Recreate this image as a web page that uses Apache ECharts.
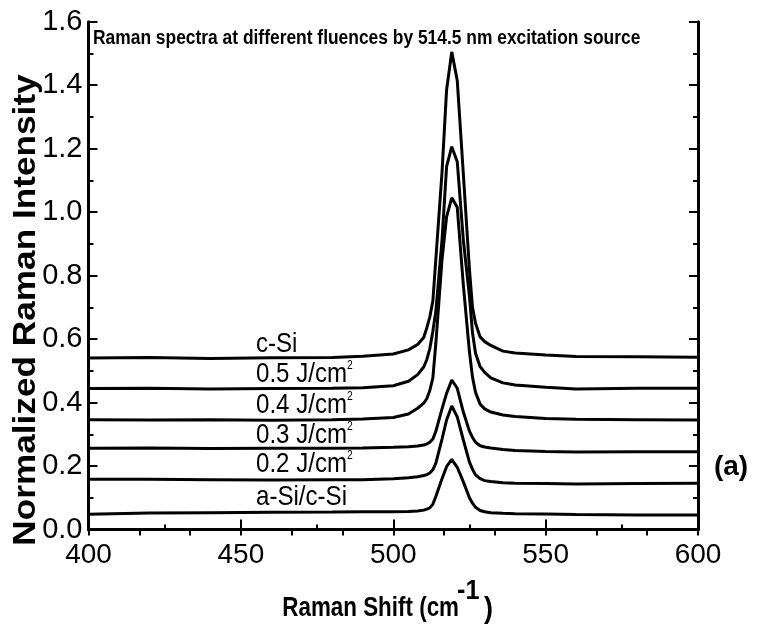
<!DOCTYPE html>
<html>
<head>
<meta charset="utf-8">
<script src="https://cdn.jsdelivr.net/npm/echarts@6/dist/echarts.min.js"></script>
<style>
html, body { margin: 0; padding: 0; background: #fff; }
#chart { width: 771px; height: 632px; }
</style>
</head>
<body>
<div id="chart"></div>
<script>
// Raman shift (cm-1), shared by every spectrum
const shift = [400, 420, 440, 460, 480, 490, 500, 505, 508, 510, 511, 512, 513, 514, 516, 517.5, 519.2, 521, 523, 525, 526, 527, 528.5, 530, 532, 536, 540, 550, 560, 580, 600];

// normalized intensities
const cSi = [0.540, 0.542, 0.539, 0.541, 0.542, 0.546, 0.553, 0.566, 0.583, 0.605, 0.635, 0.670, 0.720, 0.855, 1.125, 1.385, 1.505, 1.415, 1.120, 0.820, 0.700, 0.650, 0.607, 0.592, 0.580, 0.562, 0.556, 0.550, 0.545, 0.544, 0.543];
const f05 = [0.444, 0.445, 0.443, 0.444, 0.445, 0.447, 0.453, 0.467, 0.488, 0.512, 0.535, 0.570, 0.625, 0.690, 0.912, 1.143, 1.206, 1.159, 0.912, 0.735, 0.620, 0.555, 0.513, 0.495, 0.478, 0.462, 0.455, 0.448, 0.443, 0.445, 0.445];
const f04 = [0.346, 0.345, 0.346, 0.344, 0.346, 0.348, 0.353, 0.364, 0.382, 0.398, 0.412, 0.438, 0.478, 0.590, 0.850, 0.985, 1.045, 1.015, 0.770, 0.560, 0.480, 0.432, 0.395, 0.380, 0.370, 0.361, 0.356, 0.350, 0.347, 0.346, 0.345];
const f03 = [0.256, 0.257, 0.255, 0.256, 0.256, 0.257, 0.259, 0.261, 0.263, 0.266, 0.270, 0.275, 0.285, 0.310, 0.380, 0.429, 0.471, 0.445, 0.370, 0.310, 0.290, 0.275, 0.264, 0.260, 0.257, 0.252, 0.249, 0.246, 0.244, 0.245, 0.245];
const f02 = [0.158, 0.158, 0.157, 0.156, 0.157, 0.157, 0.160, 0.163, 0.166, 0.170, 0.173, 0.178, 0.188, 0.210, 0.285, 0.345, 0.389, 0.355, 0.282, 0.212, 0.190, 0.172, 0.160, 0.154, 0.151, 0.147, 0.146, 0.145, 0.143, 0.145, 0.146];
const aSi = [0.048, 0.052, 0.053, 0.054, 0.055, 0.056, 0.056, 0.057, 0.058, 0.061, 0.064, 0.068, 0.080, 0.105, 0.160, 0.198, 0.221, 0.196, 0.150, 0.100, 0.083, 0.070, 0.060, 0.056, 0.053, 0.051, 0.050, 0.049, 0.047, 0.046, 0.046];

const spectra = [cSi, f05, f04, f03, f02, aSi];
const names = ['c-Si', '0.5 J/cm2', '0.4 J/cm2', '0.3 J/cm2', '0.2 J/cm2', 'a-Si/c-Si'];
// text shown next to each curve ({s|..} = superscript)
const curveText = ['c-Si', '0.5 J/cm{s|2}', '0.4 J/cm{s|2}', '0.3 J/cm{s|2}', '0.2 J/cm{s|2}', 'a-Si/c-Si'];
const labelY = [344, 374, 405, 435, 464, 497];

const sans = '"Liberation Sans", Arial, sans-serif';

const chart = echarts.init(document.getElementById('chart'));

const tickStyle = { color: '#000', width: 2 };
const lineStyle = { color: '#000', width: 3 };

function boldText(text, x, y, size, align, scaleX) {
  return {
    type: 'text',
    x: x,
    y: y,
    scaleX: scaleX,
    style: {
      text: text,
      align: align,
      verticalAlign: 'middle',
      fontFamily: sans,
      fontSize: size,
      fontWeight: 'bold',
      fill: '#000'
    }
  };
}

// the figure uses a squeezed font, so texts are drawn with a horizontal scale
const graphics = curveText.map((t, i) => ({
  type: 'text',
  x: 256,
  y: labelY[i],
  scaleX: 0.86,
  style: {
    text: t,
    verticalAlign: 'middle',
    rich: {
      s: { fontFamily: sans, fontSize: 12, lineHeight: 12, verticalAlign: 'top', padding: [0, 0, 15, 0], fill: '#000' }
    },
    fontFamily: sans,
    fontSize: 28,
    fill: '#000'
  }
}));

graphics.push(boldText('Raman spectra at different fluences by 514.5 nm excitation source', 93, 38, 20, 'left', 0.87));

graphics.push({
  type: 'text',
  x: 26,
  y: 310,
  rotation: Math.PI / 2,
  scaleX: 1.1,
  style: {
    text: 'Normalized Raman Intensity',
    align: 'center',
    verticalAlign: 'middle',
    fontFamily: sans,
    fontSize: 32,
    fontWeight: 'bold',
    fill: '#000'
  }
});

// x axis title, with the raised -1
graphics.push(boldText('Raman Shift (cm', 459, 608, 28, 'right', 0.8));
graphics.push(boldText('-1', 457, 591, 28, 'left', 0.9));
graphics.push(boldText(')', 484, 610, 30, 'left', 0.9));

graphics.push(boldText('(a)', 731, 467, 28, 'center', 1));

chart.setOption({
  animation: false,
  grid: { left: 88.5, right: 73, top: 21.7, bottom: 102.5 },
  xAxis: [
    {
      type: 'value',
      position: 'bottom',
      min: 400,
      max: 600,
      interval: 50,
      axisLine: { lineStyle: lineStyle },
      axisTick: { inside: true, length: 10, lineStyle: tickStyle },
      minorTick: { show: true, splitNumber: 2, length: 5, lineStyle: tickStyle },
      axisLabel: { fontFamily: sans, fontSize: 28, color: '#000', margin: 12 },
      splitLine: { show: false }
    },
    {
      type: 'value',
      position: 'top',
      min: 0,
      max: 12,
      interval: 1,
      axisLine: { lineStyle: lineStyle },
      axisTick: { inside: true, length: 6, lineStyle: tickStyle },
      axisLabel: { show: false },
      splitLine: { show: false }
    }
  ],
  yAxis: [
    {
      type: 'value',
      position: 'left',
      min: 0,
      max: 1.6,
      interval: 0.2,
      axisLine: { lineStyle: lineStyle },
      axisTick: { inside: true, length: 9, lineStyle: tickStyle },
      minorTick: { show: true, splitNumber: 2, length: 5, lineStyle: tickStyle },
      axisLabel: { fontFamily: sans, fontSize: 29, color: '#000', margin: 6, formatter: v => v.toFixed(1) },
      splitLine: { show: false }
    },
    {
      type: 'value',
      position: 'right',
      min: 0,
      max: 1.6,
      interval: 0.2,
      axisLine: { lineStyle: lineStyle },
      axisTick: { inside: true, length: 9, lineStyle: tickStyle },
      minorTick: { show: true, splitNumber: 2, length: 5, lineStyle: tickStyle },
      axisLabel: { show: false },
      splitLine: { show: false }
    }
  ],
  series: spectra.map((vals, i) => ({
    name: names[i],
    type: 'line',
    xAxisIndex: 0,
    yAxisIndex: 0,
    symbol: 'none',
    lineStyle: { color: '#000', width: 3 },
    data: shift.map((x, j) => [x, vals[j]])
  })),
  graphic: graphics
});
</script>
</body>
</html>
